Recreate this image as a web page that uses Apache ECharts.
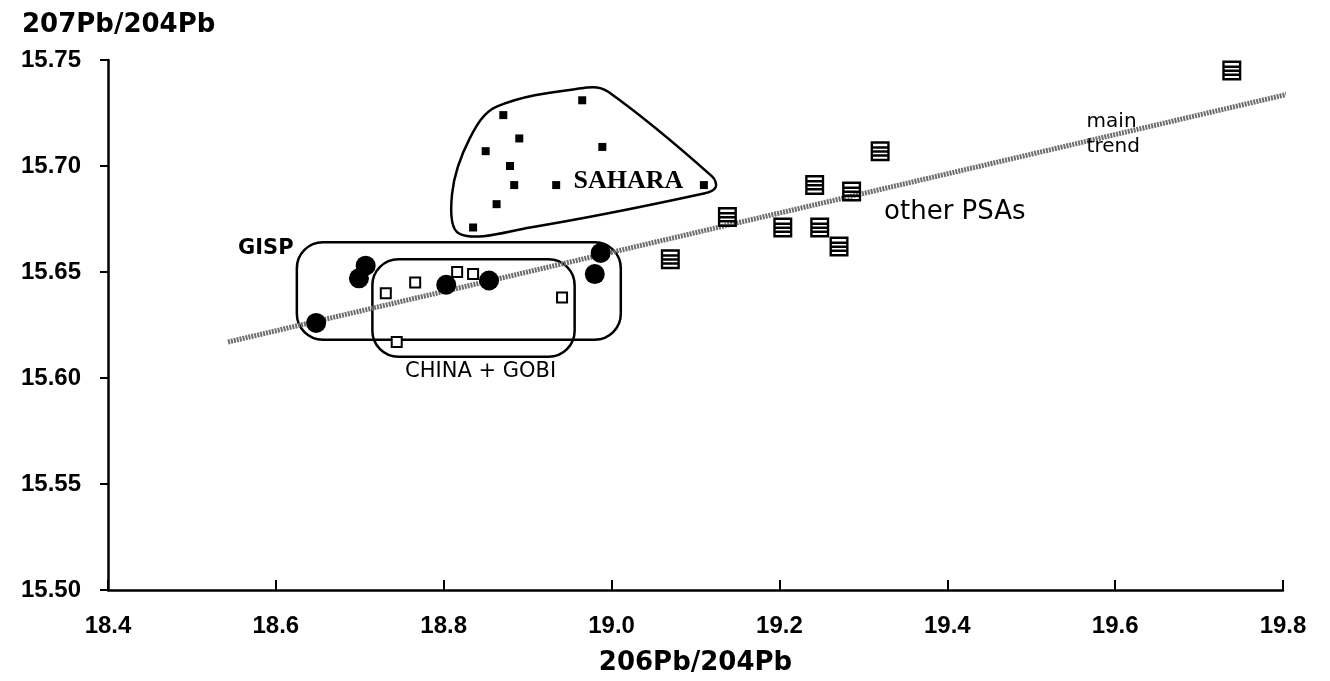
<!DOCTYPE html>
<html>
<head>
<meta charset="utf-8">
<script src="https://cdn.jsdelivr.net/npm/echarts@6/dist/echarts.min.js"></script>
<style>
  html, body { margin: 0; padding: 0; background: #fff; }
  #chart { width: 1330px; height: 681px; }
</style>
</head>
<body>
<div id="chart"></div>
<script>
// 206Pb/204Pb, 207Pb/204Pb pairs
const gispPoints = [
  [18.648, 15.626], [18.707, 15.653], [18.699, 15.647], [18.803, 15.644],
  [18.854, 15.646], [18.987, 15.659], [18.980, 15.649]
];
const chinaGobiPoints = [
  [18.731, 15.640], [18.766, 15.645], [18.816, 15.650], [18.835, 15.649],
  [18.941, 15.638], [18.744, 15.617]
];
const saharaPoints = [
  [18.965, 15.731], [18.871, 15.724], [18.890, 15.713], [18.850, 15.707],
  [18.989, 15.709], [18.879, 15.700], [18.884, 15.691], [18.934, 15.691],
  [18.863, 15.682], [18.835, 15.671], [19.110, 15.691]
];
const otherPsaPoints = [
  [19.739, 15.745], [19.320, 15.707], [19.242, 15.691], [19.286, 15.688],
  [19.138, 15.676], [19.204, 15.671], [19.248, 15.671], [19.271, 15.662],
  [19.070, 15.656]
];
// main trend end points
const trendLine = [[18.543, 15.617], [19.818, 15.735]];

// group envelopes, in data units: [xMin, yMin, xMax, yMax]
const gispBox = [18.625, 15.618, 19.011, 15.664];
const chinaBox = [18.715, 15.610, 18.956, 15.656];
const saharaOutline = [
  [18.819, 15.668], [18.810, 15.687], [18.831, 15.713], [18.863, 15.728],
  [18.971, 15.737], [18.996, 15.735], [19.120, 15.695], [19.124, 15.690],
  [19.110, 15.687], [18.903, 15.671]
];

// annotation text and where it sits
const noteTexts = ['GISP', 'CHINA + GOBI', 'SAHARA', 'other PSAs', 'main', 'trend'];
const notePositions = [
  [18.588, 15.661], [18.844, 15.603], [19.020, 15.693], [19.409, 15.678],
  [19.566, 15.721], [19.566, 15.709]
];

const xTicks = { min: 18.4, max: 19.8, step: 0.2 };
const yTicks = { min: 15.5, max: 15.75, step: 0.05 };

const noteStyles = {
  'GISP': { fontSize: 21, fontWeight: 'bold', fontFamily: 'DejaVu Sans' },
  'CHINA + GOBI': { fontSize: 21, fontFamily: 'DejaVu Sans' },
  'SAHARA': { fontSize: 26, fontWeight: 'bold', fontFamily: 'Liberation Serif' },
  'other PSAs': { fontSize: 26, fontFamily: 'DejaVu Sans' },
  'main': { fontSize: 20, fontFamily: 'DejaVu Sans', align: 'left' },
  'trend': { fontSize: 20, fontFamily: 'DejaVu Sans', align: 'left' }
};

const hatchSquare = 'path://M0,0H20V2.5H0Z M0,17.5H20V20H0Z M0,0H2.5V20H0Z M17.5,0H20V20H17.5Z M2,5H18V7.5H2Z M2,9H18V11.5H2Z M2,13H18V15.5H2Z';

const tickFont = { fontSize: 24, fontWeight: 'bold', fontFamily: 'Liberation Sans', color: '#000' };

const chart = echarts.init(document.getElementById('chart'));

const boxSeries = (boxes) => ({
  type: 'custom',
  silent: true,
  z: 1,
  data: boxes,
  renderItem: (params, api) => {
    const p0 = api.coord([api.value(0), api.value(3)]);
    const p1 = api.coord([api.value(2), api.value(1)]);
    return {
      type: 'rect',
      shape: { x: p0[0], y: p0[1], width: p1[0] - p0[0], height: p1[1] - p0[1], r: 26 },
      style: { fill: 'none', stroke: '#000', lineWidth: 2.5 }
    };
  }
});

chart.setOption({
  animation: false,
  backgroundColor: '#fff',
  grid: { left: 108, right: 47, top: 60, bottom: 80 },
  xAxis: {
    type: 'value',
    min: xTicks.min,
    max: xTicks.max,
    interval: xTicks.step,
    name: '206Pb/204Pb',
    nameLocation: 'middle',
    nameGap: 60,
    nameTextStyle: { fontSize: 26, fontWeight: 'bold', fontFamily: 'DejaVu Sans', color: '#000' },
    axisLine: { onZero: false, lineStyle: { color: '#000', width: 2.5 } },
    axisTick: { inside: true, length: 10, lineStyle: { color: '#000', width: 2 } },
    axisLabel: Object.assign({ margin: 24, formatter: (v) => v.toFixed(1) }, tickFont),
    splitLine: { show: false }
  },
  yAxis: {
    type: 'value',
    min: yTicks.min,
    max: yTicks.max,
    interval: yTicks.step,
    name: '207Pb/204Pb',
    nameLocation: 'end',
    nameGap: 22,
    nameTextStyle: { fontSize: 26, fontWeight: 'bold', fontFamily: 'DejaVu Sans', color: '#000', align: 'left', padding: [0, 0, 0, -86] },
    axisLine: { onZero: false, lineStyle: { color: '#000', width: 2.5 } },
    axisTick: { inside: false, length: 8, lineStyle: { color: '#000', width: 2 } },
    axisLabel: Object.assign({ margin: 27, formatter: (v) => v.toFixed(2) }, tickFont),
    splitLine: { show: false }
  },
  series: [
    {
      name: 'main trend',
      type: 'line',
      data: trendLine,
      symbol: 'none',
      silent: true,
      z: 2,
      lineStyle: { color: '#6e6e6e', width: 5, type: [2, 1], opacity: 1 }
    },
    boxSeries([gispBox, chinaBox]),
    {
      type: 'custom',
      silent: true,
      z: 1,
      data: [0],
      renderItem: (params, api) => ({
        type: 'polygon',
        shape: { points: saharaOutline.map((p) => api.coord(p)), smooth: 0.35 },
        style: { fill: 'none', stroke: '#000', lineWidth: 2.5 }
      })
    },
    {
      name: 'GISP',
      type: 'scatter',
      data: gispPoints,
      symbol: 'circle',
      symbolSize: 20,
      z: 4,
      itemStyle: { color: '#000', opacity: 1 }
    },
    {
      name: 'CHINA + GOBI',
      type: 'scatter',
      data: chinaGobiPoints,
      symbol: 'rect',
      symbolSize: 10,
      z: 4,
      itemStyle: { color: '#fff', borderColor: '#000', borderWidth: 2, opacity: 1 }
    },
    {
      name: 'SAHARA',
      type: 'scatter',
      data: saharaPoints,
      symbol: 'rect',
      symbolSize: 8,
      z: 4,
      itemStyle: { color: '#000', opacity: 1 }
    },
    {
      name: 'other PSAs',
      type: 'scatter',
      data: otherPsaPoints,
      symbol: hatchSquare,
      symbolSize: [19, 20],
      z: 4,
      itemStyle: { color: '#000', opacity: 1 }
    },
    {
      type: 'scatter',
      silent: true,
      symbolSize: 0,
      z: 5,
      itemStyle: { opacity: 1 },
      data: noteTexts.map((t, i) => ({
        value: notePositions[i],
        label: Object.assign({ show: true, position: 'inside', formatter: t, color: '#000' }, noteStyles[t])
      }))
    }
  ]
});

window.onresize = function () {
  chart.resize();
};
</script>
</body>
</html>
